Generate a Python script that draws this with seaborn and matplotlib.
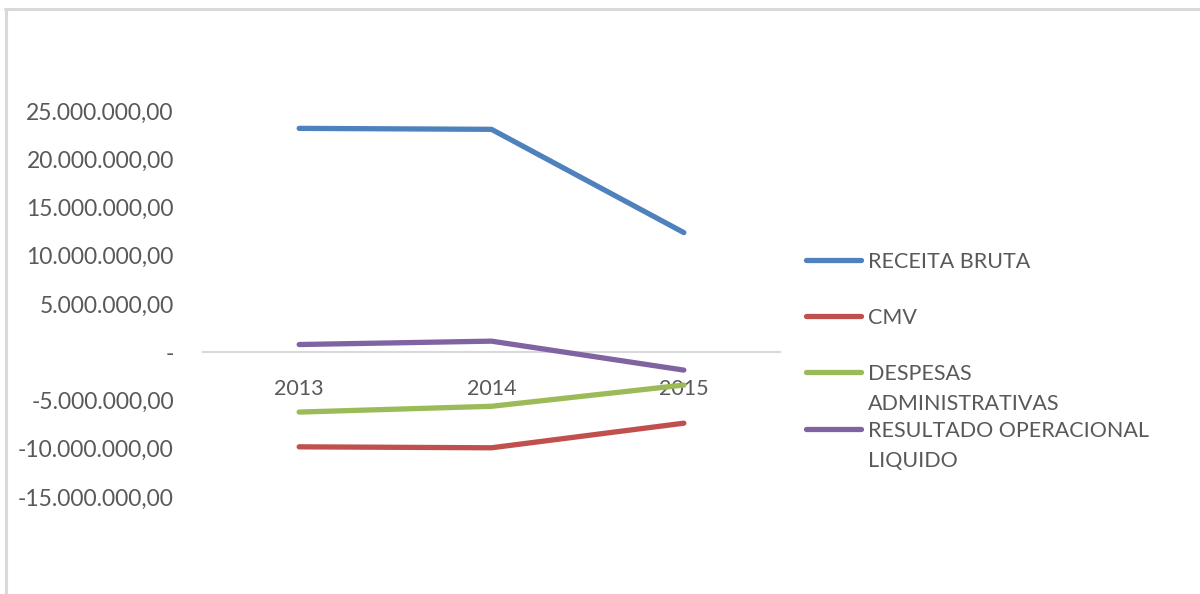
import numpy as np
import pandas as pd
import matplotlib
matplotlib.use("Agg")
import matplotlib.pyplot as plt
import seaborn as sns
from matplotlib.lines import Line2D
from matplotlib.ticker import FuncFormatter

# Data
years = ["2013", "2014", "2015"]
receita_bruta = [23200000, 23100000, 12400000]
cmv = [-9800000, -9900000, -7350000]
despesas_adm = [-6200000, -5600000, -3400000]
resultado_liq = [800000, 1150000, -1850000]

series_names = ["RECEITA BRUTA", "CMV", "DESPESAS ADMINISTRATIVAS", "RESULTADO OPERACIONAL LIQUIDO"]
legend_labels = ["RECEITA BRUTA", "CMV", "DESPESAS\nADMINISTRATIVAS", "RESULTADO OPERACIONAL\nLIQUIDO"]
colors = ["#4f81bd", "#c0504d", "#9bbb59", "#8064a2"]
y_ticks = [-15000000, -10000000, -5000000, 0, 5000000, 10000000, 15000000, 20000000, 25000000]

df = pd.DataFrame({
    "ano": years * 4,
    "valor": receita_bruta + cmv + despesas_adm + resultado_liq,
    "serie": [s for s in series_names for _ in years],
})

sns.set_theme(style="white")
plt.rcParams["font.family"] = ["Lato", "DejaVu Sans"]

text_color = "#595959"
W, H = 1200, 594
fig = plt.figure(figsize=(12, 5.94), dpi=100)
ax = fig.add_axes([203 / W, 1 - 497 / H, (780 - 203) / W, (497 - 111) / H])

sns.lineplot(data=df, x="ano", y="valor", hue="serie", hue_order=series_names,
             palette=colors, linewidth=3.8, legend=False, ax=ax,
             solid_capstyle="round", sort=False)

ax.set_xlim(-0.5, 2.5)
ax.set_ylim(-15000000, 25000000)
ax.set_yticks(y_ticks)


def br_fmt(v, pos):
    if abs(v) < 1:
        return "-"
    s = f"{abs(v):,.2f}".replace(",", "X").replace(".", ",").replace("X", ".")
    return ("-" if v < 0 else "") + s


ax.yaxis.set_major_formatter(FuncFormatter(br_fmt))
ax.tick_params(axis="y", length=0, pad=21, labelsize=16.5, labelcolor=text_color)
ax.tick_params(axis="x", length=0, pad=19, labelsize=15.5, labelcolor=text_color)
ax.set_xlabel("")
ax.set_ylabel("")

for side in ["top", "right", "left"]:
    ax.spines[side].set_visible(False)
ax.spines["bottom"].set_position(("data", 0))
ax.spines["bottom"].set_color("#d9d9d9")
ax.spines["bottom"].set_linewidth(1.5)
ax.spines["bottom"].set_zorder(0)
ax.patch.set_alpha(0)

# chart frame (top and left edges)
fig.add_artist(Line2D([5 / W, 1.0], [1 - 9 / H, 1 - 9 / H], transform=fig.transFigure,
                      color="#d9d9d9", linewidth=2.2))
fig.add_artist(Line2D([6 / W, 6 / W], [0, 1 - 9 / H], transform=fig.transFigure,
                      color="#d9d9d9", linewidth=2.2))

# legend on the right, handle aligned with first text line
legend_y = [260, 316, 372, 429]
for lab, col, yy in zip(legend_labels, colors, legend_y):
    fy = 1 - yy / H
    fig.add_artist(Line2D([806 / W, 861 / W], [fy, fy], transform=fig.transFigure,
                          color=col, linewidth=3.8, solid_capstyle="round"))
    fig.text(868 / W, fy + 8 / H, lab, ha="left", va="top", fontsize=15.5,
             color=text_color, linespacing=1.6)

fig.savefig("out.png", dpi=100, facecolor="white")
